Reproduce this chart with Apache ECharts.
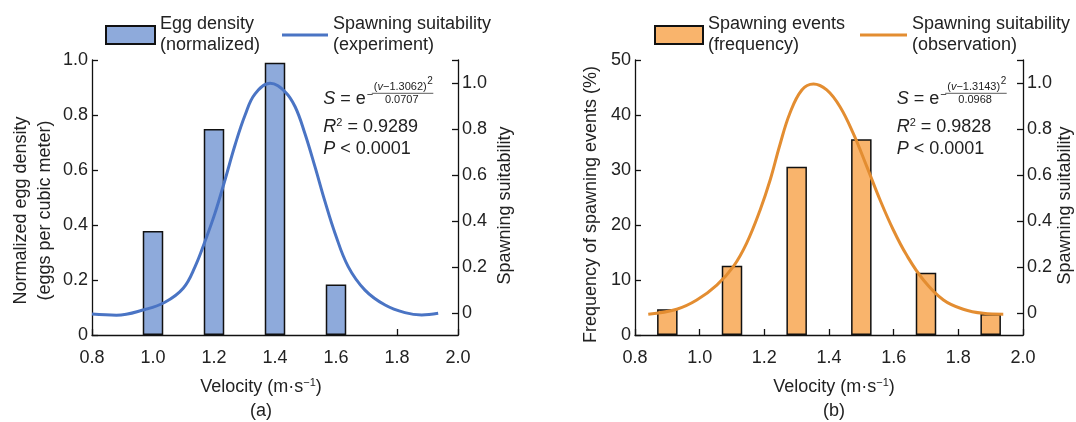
<!DOCTYPE html>
<html>
<head>
<meta charset="utf-8">
<script src="https://cdn.jsdelivr.net/npm/echarts@6/dist/echarts.min.js"></script>
<style>
  html, body { margin: 0; padding: 0; background: #fff; }
  #main { width: 1076px; height: 422px; }
</style>
</head>
<body>
<div id="main"></div>
<script>
// panel (a): egg density bars + fitted suitability curve
var velA = [1.0, 1.2, 1.4, 1.6];
var eggDensity = [0.378, 0.749, 0.99, 0.184];
var curveAv = [0.80, 0.88, 0.974, 1.039, 1.099, 1.138, 1.170, 1.203, 1.236, 1.269, 1.302, 1.334, 1.384,
               1.433, 1.466, 1.498, 1.531, 1.564, 1.597, 1.640, 1.695, 1.761, 1.826, 1.881, 1.935];
var curveAs = [-0.003, -0.008, 0.017, 0.048, 0.109, 0.203, 0.311, 0.434, 0.579, 0.731, 0.861, 0.952, 0.999,
               0.962, 0.897, 0.781, 0.637, 0.485, 0.347, 0.203, 0.101, 0.036, 0.003, -0.007, 0];

// panel (b): spawning event frequency bars + observed suitability curve
var velB = [0.9, 1.1, 1.3, 1.5, 1.7, 1.9];
var spawnFreq = [4.7, 12.6, 30.6, 35.6, 11.3, 3.8];
var curveBv = [0.841, 0.929, 0.991, 1.053, 1.104, 1.145, 1.187, 1.218, 1.248, 1.279, 1.316, 1.352,
               1.393, 1.434, 1.475, 1.517, 1.558, 1.599, 1.640, 1.692, 1.754, 1.815, 1.877, 1.939];
var curveBs = [-0.004, 0.018, 0.058, 0.123, 0.203, 0.304, 0.449, 0.579, 0.731, 0.869, 0.970, 0.996,
               0.970, 0.897, 0.781, 0.637, 0.492, 0.362, 0.253, 0.145, 0.058, 0.018, 0, -0.004];

// tick labels
var suitTicks = [0, 0.2, 0.4, 0.6, 0.8, 1.0];
var suitTickMarks = [0, 0.2, 0.4, 0.6, 0.8, 1.0, 1.1];

var nameBarA = 'Egg density\n(normalized)';
var nameLineA = 'Spawning suitability\n(experiment)';
var nameBarB = 'Spawning events\n(frequency)';
var nameLineB = 'Spawning suitability\n(observation)';

var FONT = 'Liberation Sans, Arial, sans-serif';
var TXT = '#222';

function pairs(xs, ys) {
  return xs.map(function (x, i) { return [x, ys[i]]; });
}
function fmt1(v) { return v === 0 ? '0' : v.toFixed(1); }

function xAx(gi) {
  return {
    type: 'value', gridIndex: gi, min: 0.8, max: 2.0, interval: 0.2,
    axisLine: { lineStyle: { color: '#111', width: 1.3 } },
    axisTick: { inside: true, length: 6, lineStyle: { color: '#111', width: 1.3 } },
    axisLabel: { color: TXT, fontSize: 18, fontFamily: FONT, margin: 14, formatter: fmt1 },
    splitLine: { show: false }
  };
}
function suitAx(gi, gap) {
  return {
    type: 'value', gridIndex: gi, position: 'right', min: -0.094, max: 1.1,
    name: 'Spawning suitability', nameLocation: 'middle', nameGap: gap, nameRotate: 90,
    nameTextStyle: { color: TXT, fontSize: 18, fontFamily: FONT, padding: [0, 16, 0, 0] },
    axisLine: { show: true, lineStyle: { color: '#111', width: 1.3 } },
    axisTick: { show: true, inside: true, length: 6, customValues: suitTickMarks,
                lineStyle: { color: '#111', width: 1.3 } },
    axisLabel: { color: TXT, fontSize: 18, fontFamily: FONT, margin: 4, customValues: suitTicks, formatter: fmt1 },
    splitLine: { show: false }
  };
}
function legendItem(name, left, w, isLine) {
  return {
    data: [{ name: name, icon: 'rect' }], left: left, top: 9, orient: 'horizontal',
    itemWidth: w, itemHeight: isLine ? 3 : 18, itemGap: 0, selectedMode: false,
    textStyle: { color: TXT, fontSize: 18, fontFamily: FONT, lineHeight: 21 }
  };
}

// formula / statistics annotation, x0 = left of "S"
function annot(x0, mu, den, r2) {
  var small = { fill: TXT, fontSize: 11, fontFamily: FONT };
  return [
    { type: 'text', left: x0, top: 90, style: { text: '{i|S} = e', fill: TXT, fontSize: 18, fontFamily: FONT,
      rich: { i: { fontStyle: 'italic', fontSize: 18, fontFamily: FONT, fill: TXT } } } },
    { type: 'text', x: x0 + 43.5, y: 95, style: Object.assign({ text: '\u2212', verticalAlign: 'middle' }, small) },
    { type: 'text', x: x0 + 77, y: 86.5, style: Object.assign({ text: '({i|v}\u2212' + mu + ')', align: 'center', verticalAlign: 'middle',
      rich: { i: { fontStyle: 'italic', fontSize: 11, fontFamily: FONT, fill: TXT } } }, small) },
    { type: 'text', x: x0 + 104, y: 81, style: { text: '2', fill: TXT, fontSize: 10, fontFamily: FONT, verticalAlign: 'middle' } },
    { type: 'line', shape: { x1: x0 + 48.5, y1: 93.3, x2: x0 + 110, y2: 93.3 }, style: { stroke: '#333', lineWidth: 0.8 } },
    { type: 'text', x: x0 + 78.4, y: 100, style: Object.assign({ text: den, align: 'center', verticalAlign: 'middle' }, small) },
    { type: 'text', x: x0, y: 127.3, style: { text: '{i|R}{s|2} = ' + r2, fill: TXT, fontSize: 18, fontFamily: FONT,
      verticalAlign: 'middle', lineHeight: 20,
      rich: { i: { fontStyle: 'italic', fontSize: 18, fontFamily: FONT, fill: TXT, lineHeight: 20 },
              s: { fontSize: 11, fontFamily: FONT, fill: TXT, verticalAlign: 'top', lineHeight: 20 } } } },
    { type: 'text', x: x0, y: 149.3, style: { text: '{i|P} < 0.0001', fill: TXT, fontSize: 18, fontFamily: FONT,
      verticalAlign: 'middle', rich: { i: { fontStyle: 'italic', fontSize: 18, fontFamily: FONT, fill: TXT } } } }
  ];
}
function caption(cx, label) {
  return [
    { type: 'text', x: cx, y: 387, style: { text: 'Velocity (m\u00b7s{s|\u22121})', fill: TXT, fontSize: 18, fontFamily: FONT,
      align: 'center', verticalAlign: 'middle', lineHeight: 20,
      rich: { s: { fontSize: 11, fontFamily: FONT, fill: TXT, verticalAlign: 'top', lineHeight: 20 } } } },
    { type: 'text', x: cx, y: 411, style: { text: label, fill: TXT, fontSize: 18, fontFamily: FONT,
      align: 'center', verticalAlign: 'middle' } }
  ];
}

var myChart = echarts.init(document.getElementById('main'));
var option = {
  animation: false,
  grid: [
    { left: 92, right: 618, top: 60, bottom: 87 },
    { left: 635, right: 53, top: 60, bottom: 87 }
  ],
  legend: [
    legendItem(nameBarA, 100, 49, false),
    legendItem(nameLineA, 277, 46, true),
    legendItem(nameBarB, 649, 48, false),
    legendItem(nameLineB, 855, 47, true)
  ],
  xAxis: [xAx(0), xAx(1)],
  yAxis: [
    {
      type: 'value', gridIndex: 0, min: 0, max: 1, interval: 0.2,
      name: 'Normalized egg density\n(eggs per cubic meter)', nameLocation: 'middle', nameGap: 35,
      nameTextStyle: { color: TXT, fontSize: 18, fontFamily: FONT, lineHeight: 24, padding: [0, 26, 0, 0] },
      axisLine: { show: true, lineStyle: { color: '#111', width: 1.3 } },
      axisTick: { show: true, inside: true, length: 6, lineStyle: { color: '#111', width: 1.3 } },
      axisLabel: { color: TXT, fontSize: 18, fontFamily: FONT, margin: 4, formatter: fmt1 },
      splitLine: { show: false }
    },
    suitAx(0, 38),
    {
      type: 'value', gridIndex: 1, min: 0, max: 50, interval: 10,
      name: 'Frequency of spawning events (%)', nameLocation: 'middle', nameGap: 35,
      nameTextStyle: { color: TXT, fontSize: 18, fontFamily: FONT, padding: [0, 14, 0, 0] },
      axisLine: { show: true, lineStyle: { color: '#111', width: 1.3 } },
      axisTick: { show: true, inside: true, length: 6, lineStyle: { color: '#111', width: 1.3 } },
      axisLabel: { color: TXT, fontSize: 18, fontFamily: FONT, margin: 4 },
      splitLine: { show: false }
    },
    suitAx(1, 33)
  ],
  series: [
    {
      name: nameBarA, type: 'bar', xAxisIndex: 0, yAxisIndex: 0, barWidth: 20.5,
      data: pairs(velA, eggDensity),
      itemStyle: { color: '#8eaadb', borderColor: '#111', borderWidth: 1.5 }
    },
    {
      name: nameLineA, type: 'line', xAxisIndex: 0, yAxisIndex: 1, smooth: 0.4,
      symbol: 'none', data: pairs(curveAv, curveAs), z: 5,
      lineStyle: { color: '#4a74c4', width: 3 }, itemStyle: { color: '#4a74c4' }
    },
    {
      name: nameBarB, type: 'bar', xAxisIndex: 1, yAxisIndex: 2, barWidth: 20.5,
      data: pairs(velB, spawnFreq),
      itemStyle: { color: '#f9b46c', borderColor: '#111', borderWidth: 1.5 }
    },
    {
      name: nameLineB, type: 'line', xAxisIndex: 1, yAxisIndex: 3, smooth: 0.4,
      symbol: 'none', data: pairs(curveBv, curveBs), z: 5,
      lineStyle: { color: '#e38d31', width: 3 }, itemStyle: { color: '#e38d31' }
    }
  ],
  graphic: []
    .concat(annot(323.3, '1.3062', '0.0707', '0.9289'))
    .concat(annot(896.7, '1.3143', '0.0968', '0.9828'))
    .concat(caption(261, '(a)'))
    .concat(caption(834, '(b)'))
};
myChart.setOption(option);
</script>
</body>
</html>
